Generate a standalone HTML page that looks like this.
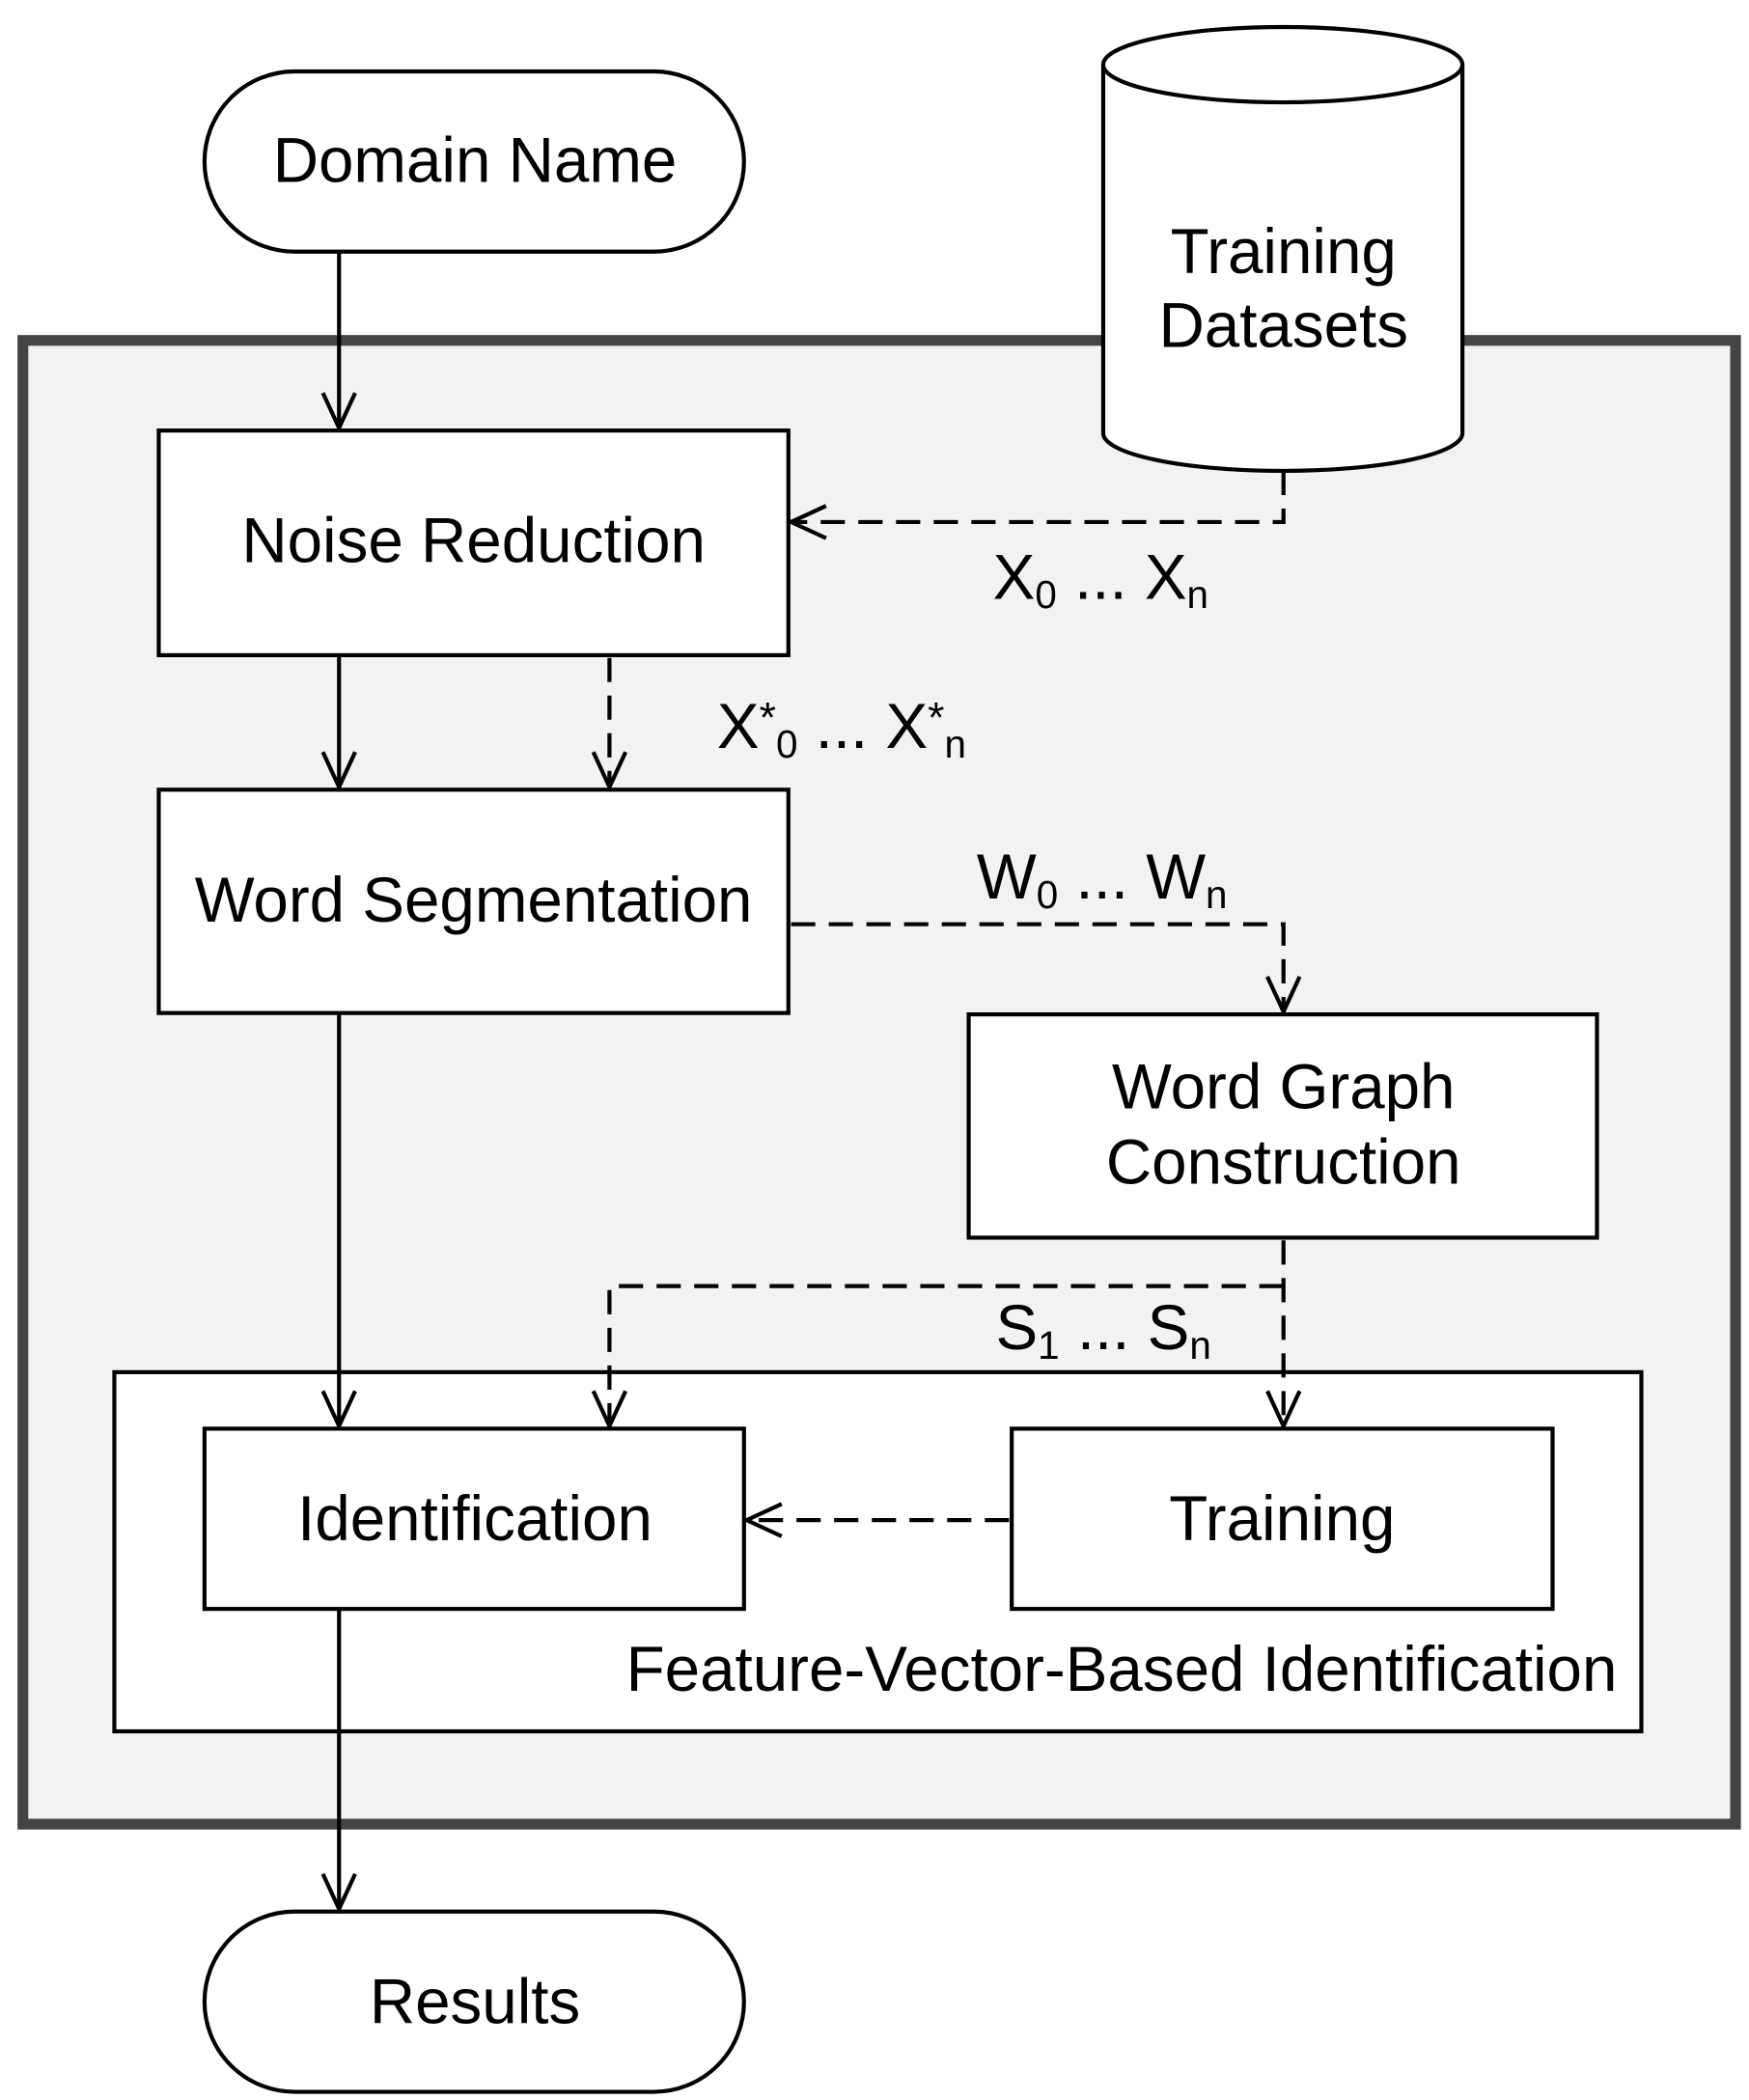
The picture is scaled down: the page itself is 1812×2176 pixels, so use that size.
<!DOCTYPE html>
<html><head><meta charset="utf-8"><style>
html,body{margin:0;padding:0;background:#fff;}
svg{display:block;}
text{font-family:"Liberation Sans",sans-serif;font-size:47px;fill:#000;}
</style></head><body>
<svg width="1812" height="2176" viewBox="0 0 1300 1561" xmlns="http://www.w3.org/2000/svg">
<defs>
<marker id="a" markerWidth="32" markerHeight="30" refX="0" refY="0" viewBox="-30 -15 32 30" markerUnits="userSpaceOnUse" orient="auto" overflow="visible">
<path d="M-26,-12 L0,0 L-26,12" fill="none" stroke="#000" stroke-width="3"/>
</marker>
</defs>
<rect width="1300" height="1561" fill="#fff"/>
<rect x="17" y="253" width="1273" height="1103" fill="#f2f2f2" stroke="#444" stroke-width="8"/>
<rect x="152" y="53" width="401" height="134" rx="67" fill="#fff" stroke="#000" stroke-width="3"/>
<text x="353" y="135" text-anchor="middle">Domain Name</text>
<path d="M820,48 L820,322 A133.5,28 0 0 0 1087,322 L1087,48" fill="#fff" stroke="#000" stroke-width="3"/>
<ellipse cx="953.5" cy="48" rx="133.5" ry="28" fill="#fff" stroke="#000" stroke-width="3"/>
<text x="954" y="203" text-anchor="middle">Training</text>
<text x="954" y="258" text-anchor="middle">Datasets</text>
<rect x="118" y="320" width="468" height="167" fill="#fff" stroke="#000" stroke-width="3"/>
<text x="352" y="418" text-anchor="middle">Noise Reduction</text>
<rect x="118" y="587" width="468" height="166" fill="#fff" stroke="#000" stroke-width="3"/>
<text x="352" y="685" text-anchor="middle">Word Segmentation</text>
<rect x="720" y="754" width="467" height="166" fill="#fff" stroke="#000" stroke-width="3"/>
<text x="954" y="824" text-anchor="middle">Word Graph</text>
<text x="954" y="880" text-anchor="middle">Construction</text>
<rect x="85" y="1020" width="1135" height="267" fill="#fff" stroke="#000" stroke-width="3"/>
<rect x="152" y="1062" width="401" height="134" fill="#fff" stroke="#000" stroke-width="3"/>
<text x="353" y="1145" text-anchor="middle">Identification</text>
<rect x="752" y="1062" width="402" height="134" fill="#fff" stroke="#000" stroke-width="3"/>
<text x="953" y="1145" text-anchor="middle">Training</text>
<text x="1202" y="1257" text-anchor="end">Feature-Vector-Based Identification</text>
<rect x="152" y="1421" width="401" height="134" rx="67" fill="#fff" stroke="#000" stroke-width="3"/>
<text x="353" y="1504" text-anchor="middle">Results</text>
<g stroke="#000" stroke-width="3" fill="none">
<line x1="252" y1="187" x2="252" y2="318" marker-end="url(#a)"/>
<line x1="252" y1="487" x2="252" y2="585" marker-end="url(#a)"/>
<line x1="252" y1="753" x2="252" y2="1060" marker-end="url(#a)"/>
<line x1="252" y1="1196" x2="252" y2="1419" marker-end="url(#a)"/>
</g>
<g stroke="#000" stroke-width="3" fill="none" stroke-dasharray="18,10">
<path d="M954,350 L954,388 L588,388" marker-end="url(#a)"/>
<path d="M453,489 L453,585" marker-end="url(#a)"/>
<path d="M588,687 L954,687 L954,752" marker-end="url(#a)"/>
<path d="M954,922 L954,1060" marker-end="url(#a)"/>
<path d="M954,956 L453,956 L453,1060" marker-end="url(#a)"/>
<path d="M750,1130 L555,1130" marker-end="url(#a)"/>
</g>
<text x="738" y="445">X<tspan font-size="29" dy="7">0</tspan><tspan dy="-7"> ... X</tspan><tspan font-size="29" dy="7">n</tspan></text>
<text x="533" y="556">X<tspan font-size="32" dy="-12">*</tspan><tspan font-size="29" dy="19">0</tspan><tspan dy="-7"> ... X</tspan><tspan font-size="32" dy="-12">*</tspan><tspan font-size="29" dy="19">n</tspan></text>
<text x="726" y="668">W<tspan font-size="29" dy="7">0</tspan><tspan dy="-7"> ... W</tspan><tspan font-size="29" dy="7">n</tspan></text>
<text x="740" y="1003">S<tspan font-size="29" dy="7">1</tspan><tspan dy="-7"> ... S</tspan><tspan font-size="29" dy="7">n</tspan></text>
</svg>
</body></html>
